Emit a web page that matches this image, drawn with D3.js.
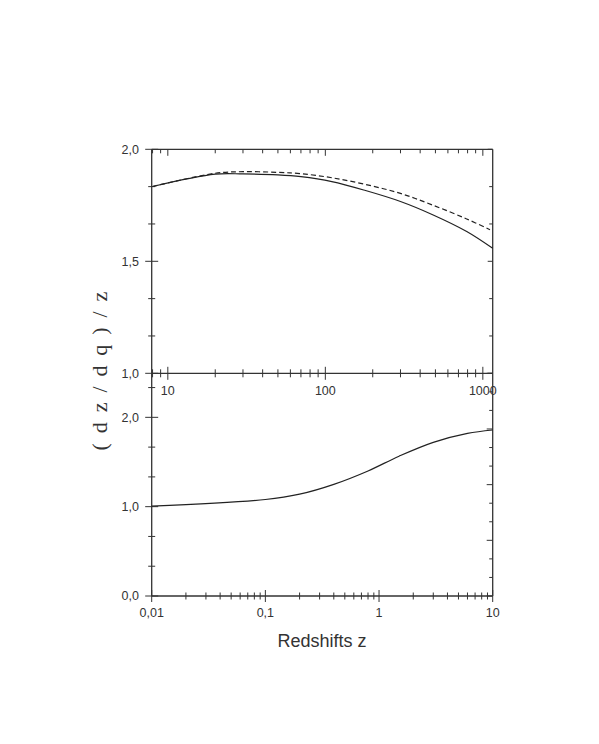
<!DOCTYPE html>
<html>
<head>
<meta charset="utf-8">
<script src="https://cdn.jsdelivr.net/npm/d3@7"></script>
<style>
  body { margin: 0; background: #fff; }
  text { font-family: "Liberation Sans", Arial, sans-serif; fill: #333; }
</style>
</head>
<body>
<script>
// top panel: z from 8 to ~1150
var topZ       = [8, 20, 30, 50, 70, 110, 180, 300, 480, 790, 1155];
var topSolid   = [1.834, 1.889, 1.890, 1.886, 1.878, 1.856, 1.816, 1.767, 1.708, 1.633, 1.558];
var topDashZ   = [8, 20, 30, 50, 70, 110, 180, 300, 480, 790, 1110];
var topDashed  = [1.834, 1.893, 1.900, 1.897, 1.891, 1.873, 1.843, 1.803, 1.751, 1.689, 1.641];

// bottom panel: z from 0.01 to 10
var botZ = [0.01, 0.1, 0.2, 0.4, 0.8, 1.5, 3, 6, 10];
var botY = [1.005, 1.08, 1.14, 1.25, 1.40, 1.565, 1.72, 1.82, 1.858];

var topYTicks = [1.0, 1.5, 2.0];
var topXLabels = [10, 100, 1000];
var botYTicks = [0.0, 1.0, 2.0];
var botXLabels = [0.01, 0.1, 1, 10];

var width = 599, height = 744;
var left = 151.7, right = 492.7;

var svg = d3.select("body").append("svg")
    .attr("width", width)
    .attr("height", height);

var fmt = function(v) { return String(v).replace(".", ","); };
var fmt1 = function(v) { return v.toFixed(1).replace(".", ","); };

var xTop = d3.scaleLog().domain([7.9, 1155]).range([left, right]);
var yTop = d3.scaleLinear().domain([1, 2]).range([373.3, 149.3]);
var xBot = d3.scaleLog().domain([0.01, 10]).range([left, right]);
var yBot = d3.scaleLinear().domain([0, 2.493]).range([596, 373.3]);
var yBotRight = d3.scaleLinear().domain([0, 4]).range([596, 373.3]);

var axisCol = "#333";

function logTicks(scale) {
    var d = scale.domain(), out = [];
    for (var e = Math.floor(Math.log10(d[0])); e <= Math.ceil(Math.log10(d[1])); e++) {
        for (var m = 1; m < 10; m++) {
            var v = m * Math.pow(10, e);
            if (v >= d[0] * 0.999 && v <= d[1] * 1.001) out.push({v: v, major: m === 1});
        }
    }
    return out;
}

function tick(g, x1, y1, x2, y2) {
    g.append("line").attr("x1", x1).attr("y1", y1).attr("x2", x2).attr("y2", y2)
        .attr("stroke", axisCol).attr("stroke-width", 1);
}

// ---------- frame lines ----------
var frame = svg.append("g").attr("stroke", axisCol).attr("stroke-width", 1.3);
frame.append("line").attr("x1", left).attr("x2", right).attr("y1", 149.3).attr("y2", 149.3);
frame.append("line").attr("x1", left).attr("x2", right).attr("y1", 373.3).attr("y2", 373.3);
frame.append("line").attr("x1", left).attr("x2", right).attr("y1", 596).attr("y2", 596);
frame.append("line").attr("x1", left).attr("x2", left).attr("y1", 149.3).attr("y2", 596);
frame.append("line").attr("x1", right).attr("x2", right).attr("y1", 149.3).attr("y2", 596);

var tk = svg.append("g");

// ---------- top panel ticks ----------
logTicks(xTop).forEach(function(t) {
    var x = xTop(t.v);
    tick(tk, x, 149.3, x, 149.3 + (t.major ? 6.5 : 4));           // top edge, inward
    tick(tk, x, 373.3 - (t.major ? 6.5 : 4), x, 373.3 + (t.major ? 6.5 : 4)); // bottom, crossing
});
d3.range(1, 2.001, 0.5 / 3).forEach(function(v, i) {
    var y = yTop(v), major = i % 3 === 0;
    tick(tk, left - (major ? 6.5 : 3.5), y, left + (major ? 6.5 : 3.5), y);
    tick(tk, right - (major ? 5 : 3.5), y, right, y);
});
topYTicks.forEach(function(v) {
    svg.append("text").attr("x", 139).attr("y", yTop(v)).attr("dy", "0.35em")
        .attr("text-anchor", "end").attr("font-size", 12.5).text(fmt1(v));
});
topXLabels.forEach(function(v) {
    svg.append("text").attr("x", xTop(v)).attr("y", 395)
        .attr("text-anchor", "middle").attr("font-size", 12.5).text(fmt(v));
});

// ---------- bottom panel ticks ----------
logTicks(xBot).forEach(function(t) {
    var x = xBot(t.v);
    tick(tk, x, 596 - (t.major ? 6 : 3.5), x, 596 + (t.major ? 6 : 3.5));
});
d3.range(0, 2.49, 1 / 3).forEach(function(v, i) {
    var y = yBot(v), major = i % 3 === 0;
    tick(tk, left - (major ? 6.5 : 3.5), y, left + (major ? 6.5 : 3.5), y);
});
d3.range(0, 4.001, 1 / 3).forEach(function(v, i) {
    var y = yBotRight(v), major = i % 3 === 0;
    tick(tk, right - (major ? 6 : 3.5), y, right, y);
});
botYTicks.forEach(function(v) {
    svg.append("text").attr("x", 139).attr("y", yBot(v)).attr("dy", "0.35em")
        .attr("text-anchor", "end").attr("font-size", 12.5).text(fmt1(v));
});
botXLabels.forEach(function(v) {
    svg.append("text").attr("x", xBot(v)).attr("y", 617)
        .attr("text-anchor", "middle").attr("font-size", 12.5).text(fmt(v));
});

// ---------- curves ----------
var lineTop = d3.line().curve(d3.curveCatmullRom.alpha(0.5))
    .x(function(d) { return xTop(d[0]); })
    .y(function(d) { return yTop(d[1]); });
var lineBot = d3.line().curve(d3.curveCatmullRom.alpha(0.5))
    .x(function(d) { return xBot(d[0]); })
    .y(function(d) { return yBot(d[1]); });

svg.append("path")
    .datum(d3.zip(topZ, topSolid))
    .attr("d", lineTop)
    .attr("fill", "none").attr("stroke", "#222").attr("stroke-width", 1.2);

svg.append("path")
    .datum(d3.zip(topDashZ, topDashed))
    .attr("d", lineTop)
    .attr("fill", "none").attr("stroke", "#222").attr("stroke-width", 1.2)
    .attr("stroke-dasharray", "5,3");

svg.append("path")
    .datum(d3.zip(botZ, botY))
    .attr("d", lineBot)
    .attr("fill", "none").attr("stroke", "#222").attr("stroke-width", 1.2);

// ---------- axis titles ----------
svg.append("text")
    .attr("transform", "translate(107,370) rotate(-90)")
    .attr("text-anchor", "middle")
    .style("font-family", "'Liberation Serif', 'Times New Roman', serif")
    .style("letter-spacing", "2.2px")
    .attr("font-size", 22)
    .text("( d z / d q ) / z");

svg.append("text")
    .attr("x", 322).attr("y", 647)
    .attr("text-anchor", "middle")
    .attr("font-size", 18)
    .text("Redshifts z");
</script>
</body>
</html>
